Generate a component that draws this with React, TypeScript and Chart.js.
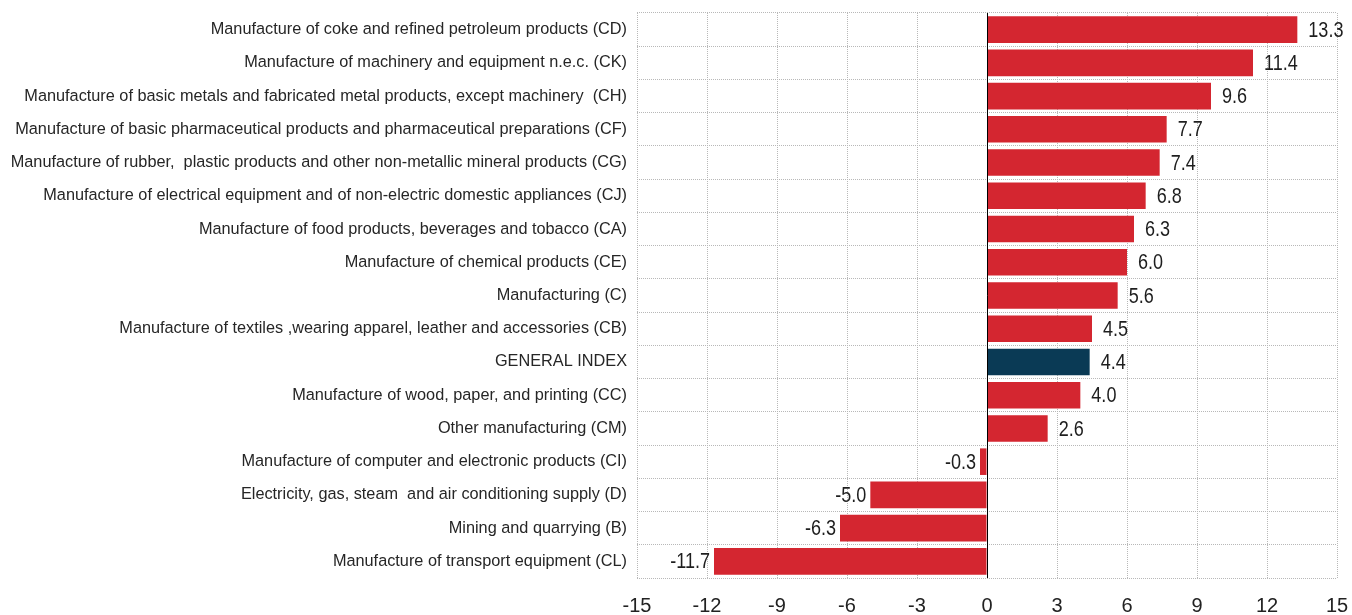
import React, { useEffect, useRef } from "react";
import { Chart, registerables } from "chart.js";

Chart.register(...registerables);

const categories: string[] = [
  "Manufacture of coke and refined petroleum products (CD)",
  "Manufacture of machinery and equipment n.e.c. (CK)",
  "Manufacture of basic metals and fabricated metal products, except machinery  (CH)",
  "Manufacture of basic pharmaceutical products and pharmaceutical preparations (CF)",
  "Manufacture of rubber,  plastic products and other non-metallic mineral products (CG)",
  "Manufacture of electrical equipment and of non-electric domestic appliances (CJ)",
  "Manufacture of food products, beverages and tobacco (CA)",
  "Manufacture of chemical products (CE)",
  "Manufacturing (C)",
  "Manufacture of textiles ,wearing apparel, leather and accessories (CB)",
  "GENERAL INDEX",
  "Manufacture of wood, paper, and printing (CC)",
  "Other manufacturing (CM)",
  "Manufacture of computer and electronic products (CI)",
  "Electricity, gas, steam  and air conditioning supply (D)",
  "Mining and quarrying (B)",
  "Manufacture of transport equipment (CL)",
];

const values: number[] = [
  13.3, 11.4, 9.6, 7.7, 7.4, 6.8, 6.3, 6.0, 5.6, 4.5, 4.4, 4.0, 2.6, -0.3, -5.0, -6.3, -11.7,
];

const highlight = "GENERAL INDEX";
const xTicks: number[] = [-15, -12, -9, -6, -3, 0, 3, 6, 9, 12, 15];

const RED = "#d42630";
const NAVY = "#0a3a55";
const FONT = "'Liberation Sans Narrow', 'Arial Narrow', 'Liberation Sans', Arial, sans-serif";

const valueLabels = {
  id: "valueLabels",
  afterDatasetsDraw(chart: any) {
    const ctx = chart.ctx;
    const meta = chart.getDatasetMeta(0);
    const data = chart.data.datasets[0].data as number[];
    meta.data.forEach((el: any, i: number) => {
      const v = data[i];
      const txt = v.toFixed(1);
      ctx.save();
      ctx.font = `22px ${FONT}`;
      ctx.fillStyle = "#1e1e1e";
      ctx.textBaseline = "middle";
      if (v >= 0) {
        ctx.translate(el.x + 11, el.y + 1);
        ctx.textAlign = "left";
      } else {
        ctx.translate(el.x - 4, el.y + 1);
        ctx.textAlign = "right";
      }
      ctx.scale(0.82, 1);
      ctx.fillText(txt, 0, 0);
      ctx.restore();
    });
  },
};

const zeroLine = {
  id: "zeroLine",
  afterDatasetsDraw(chart: any) {
    const { ctx, chartArea, scales } = chart;
    const x = Math.round(scales.x.getPixelForValue(0)) + 0.5;
    ctx.save();
    ctx.strokeStyle = "#000";
    ctx.lineWidth = 1;
    ctx.beginPath();
    ctx.moveTo(x, chartArea.top);
    ctx.lineTo(x, chartArea.bottom);
    ctx.stroke();
    ctx.restore();
  },
};

export default function App() {
  const ref = useRef<HTMLCanvasElement | null>(null);

  useEffect(() => {
    document.body.style.margin = "0";
    if (!ref.current) return;
    const chart = new Chart(ref.current, {
      type: "bar",
      data: {
        labels: categories,
        datasets: [
          {
            data: values,
            backgroundColor: categories.map((c) => (c === highlight ? NAVY : RED)),
            borderWidth: 0,
            barPercentage: 0.8,
            categoryPercentage: 1,
          },
        ],
      },
      options: {
        indexAxis: "y",
        responsive: false,
        animation: false,
        devicePixelRatio: 1,
        layout: { padding: { top: 13, right: 15, left: 0, bottom: 0 } },
        plugins: {
          legend: { display: false },
          tooltip: { enabled: false },
          title: { display: false },
        },
        scales: {
          x: {
            type: "linear",
            min: -15,
            max: 15,
            afterBuildTicks: (scale: any) => {
              scale.ticks = xTicks.map((v) => ({ value: v }));
            },
            afterFit: (scale: any) => {
              scale.height = 37;
              scale.paddingLeft = 0;
              scale.paddingRight = 0;
            },
            ticks: {
              color: "#222",
              font: { family: FONT, size: 20 },
              padding: 16,
              maxRotation: 0,
              autoSkip: false,
            },
            grid: { color: "#b8b8b8", drawTicks: false, lineWidth: 1 },
            border: { display: false, dash: [1, 1] },
          },
          y: {
            afterFit: (scale: any) => {
              scale.width = 637;
              scale.paddingTop = 0;
              scale.paddingBottom = 0;
            },
            ticks: {
              color: "#262626",
              font: { family: FONT, size: 16.3 },
              padding: 10,
              autoSkip: false,
            },
            grid: { color: "#b8b8b8", drawTicks: false, offset: true, lineWidth: 1 },
            border: { display: false, dash: [1, 1] },
          },
        },
      },
      plugins: [zeroLine, valueLabels],
    });
    return () => chart.destroy();
  }, []);

  return (
    <div style={{ position: "absolute", left: 0, top: 0, width: 1352, height: 615 }}>
      <canvas ref={ref} width={1352} height={615} style={{ width: 1352, height: 615 }} />
    </div>
  );
}
